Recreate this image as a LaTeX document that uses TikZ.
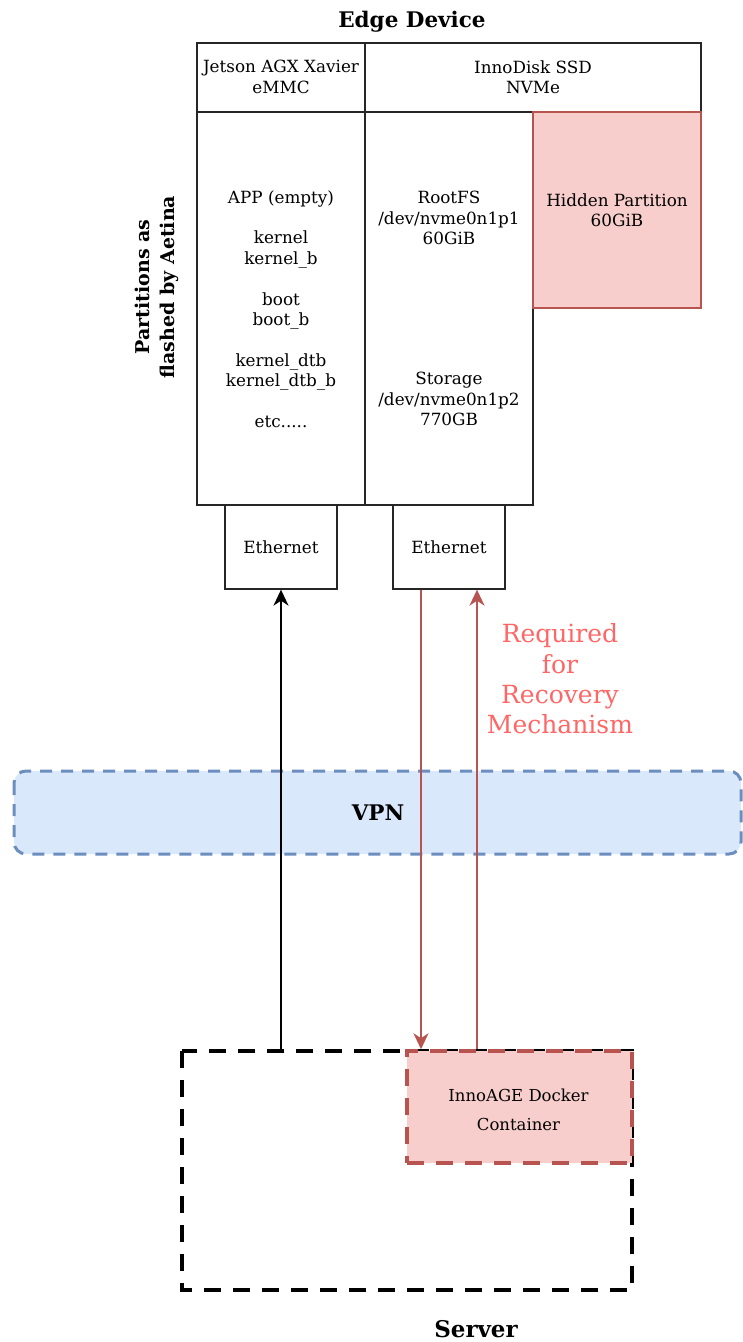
\documentclass[tikz,border=0pt]{standalone}
\usepackage{fontspec}
\setmainfont{DejaVu Serif}
\usetikzlibrary{arrows.meta}
\definecolor{pinkfill}{HTML}{F8CECC}
\definecolor{pinkline}{HTML}{B85450}
\definecolor{bluefill}{HTML}{DAE8FC}
\definecolor{blueline}{HTML}{6C8EBF}
\definecolor{reqred}{HTML}{FF6666}
\tikzset{
  cell/.style={draw=black!85, line width=1.3pt},
  txt/.style={align=center, inner sep=0pt, font=\fontsize{16.8}{20.4}\selectfont},
  btitle/.style={align=center, inner sep=0pt, font=\bfseries\fontsize{21.5}{25}\selectfont},
  rtitle/.style={align=center, inner sep=0pt, font=\bfseries\fontsize{19}{25}\selectfont},
  tip/.style={-{Stealth[length=16pt,width=15pt,inset=5pt]}},
  redarrow/.style={draw=pinkline, line width=2.4pt, tip},
  blackarrow/.style={draw=black, line width=2.2pt, tip},
  srvdash/.style={line width=3.5pt, dash pattern=on 17pt off 12pt},
}
\begin{document}
\begin{tikzpicture}[x=1pt,y=-1pt]
\useasboundingbox (0,0) rectangle (743,1342);
% header
\node[btitle] (title) at (412,22) {Edge Device};
\draw[cell] (197,43) rectangle (701,112);
\draw[cell] (365,43) -- (365,112);
\node[txt] (hdrA) at (281,77) {Jetson AGX Xavier\\eMMC};
\node[txt] (hdrB) at (533,77) {InnoDisk SSD\\NVMe};
% columns
\draw[cell] (197,112) rectangle (365,505);
\draw[cell] (365,112) rectangle (533,505);
\draw[draw=pinkline, fill=pinkfill, line width=1.3pt] (533,112) rectangle (701,308);
\node[txt] (emmc) at (281,309) {APP (empty)\\[20.4pt]kernel\\kernel\_b\\[20.4pt]boot\\boot\_b\\[20.4pt]kernel\_dtb\\kernel\_dtb\_b\\[20.4pt]etc.....};
\node[txt] (rootfs) at (449,218) {RootFS\\/dev/nvme0n1p1\\60GiB};
\node[txt] (storage) at (449,399) {Storage\\/dev/nvme0n1p2\\770GB};
\node[txt] (hidden) at (617,210) {Hidden Partition\\60GiB};
\node[rtitle, rotate=90] (part) at (157,287) {Partitions as\\flashed by Aetina};
% ethernet
\node[cell, minimum width=112pt, minimum height=84pt, inner sep=0pt, txt] (eth1) at (281,547) {Ethernet};
\node[cell, minimum width=112pt, minimum height=84pt, inner sep=0pt, txt] (eth2) at (449,547) {Ethernet};
% VPN
\draw[draw=blueline, fill=bluefill, line width=3pt, dash pattern=on 12pt off 9pt, rounded corners=12pt] (14,771) rectangle (741,854);
\node[btitle] (vpn) at (378,813) {VPN};
% server
\draw[draw=black, srvdash] (182,1051) rectangle (632,1290);
\node[btitle, font=\bfseries\fontsize{23}{25}\selectfont] (server) at (476,1329) {Server};
\node[draw=pinkline, fill=pinkfill, srvdash, minimum width=225pt, minimum height=112pt, inner sep=0pt] (docker) at (519.5,1107) {};
\node[align=center, inner sep=0pt, font=\fontsize{16.5}{28.5}\selectfont] (dockertxt) at (518.5,1110) {InnoAGE Docker\\Container};
\coordinate (srvtop) at (281,1051);
% arrows
\draw[blackarrow] (srvtop) -- (eth1.south);
\draw[redarrow] (eth2.south -| 421,0) -- (docker.north -| 421,0);
\draw[redarrow] (docker.north -| 477,0) -- (eth2.south -| 477,0);
\node[align=center, inner sep=0pt, text=reqred, font=\fontsize{25}{30.3}\selectfont] (req) at (560,679) {Required\\for\\Recovery\\Mechanism};
\end{tikzpicture}
\end{document}
